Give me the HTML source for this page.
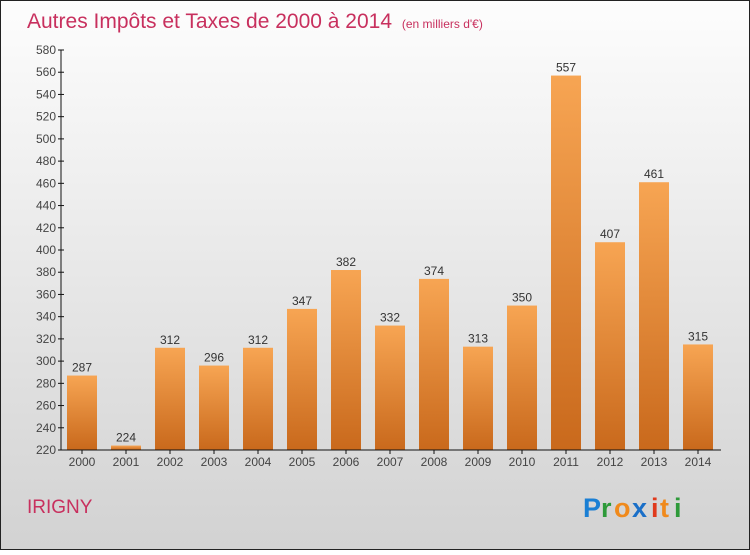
<!DOCTYPE html>
<html><head><meta charset="utf-8"><style>
html,body{margin:0;padding:0;}
body{width:750px;height:550px;overflow:hidden;font-family:"Liberation Sans",sans-serif;}
</style></head><body>
<svg id="chart" width="750" height="550" xmlns="http://www.w3.org/2000/svg">
<defs>
<linearGradient id="bg" x1="0" y1="0" x2="0" y2="1"><stop offset="0" stop-color="#fdfdfd"/><stop offset="1" stop-color="#d2d2d2"/></linearGradient>
<linearGradient id="bar" x1="0" y1="0" x2="0" y2="1"><stop offset="0" stop-color="#f7a553"/><stop offset="1" stop-color="#c9691c"/></linearGradient>
</defs>
<rect x="0.5" y="0.5" width="749" height="549" fill="url(#bg)" stroke="#222" stroke-width="1"/>
<text x="27" y="28" font-size="21" fill="#c8305e">Autres Impôts et Taxes de 2000 à 2014 <tspan font-size="12" dx="4">(en milliers d'€)</tspan></text>
<g id="plot"></g>
<text x="27" y="513" font-size="19" fill="#c8305e">IRIGNY</text>
<g font-size="27" font-weight="bold">
<text x="583" y="517" fill="#1a7fd4">P</text><text x="601" y="517" fill="#2e9a3a">r</text><text x="614" y="517" fill="#f08a1c">o</text><text x="632" y="517" fill="#1a6fc8">x</text><text x="651" y="517" fill="#e03a1c">i</text><text x="660" y="517" fill="#f08a1c">t</text><text x="674" y="517" fill="#2e9a3a">i</text>
</g>
</svg>
<script>
const years=["2000","2001","2002","2003","2004","2005","2006","2007","2008","2009","2010","2011","2012","2013","2014"];
const values=[287,224,312,296,312,347,382,332,374,313,350,557,407,461,315];
const yTicks=[220,240,260,280,300,320,340,360,380,400,420,440,460,480,500,520,540,560,580];
const NS="http://www.w3.org/2000/svg";
const g=document.getElementById('plot');
const y0=450,y1=50,vmin=220,vmax=580;
const y=v=>y0-(v-vmin)/(vmax-vmin)*(y0-y1);
const x=i=>82+i*44;
function el(t,a,txt){const e=document.createElementNS(NS,t);for(const k in a)e.setAttribute(k,a[k]);if(txt!=null)e.textContent=txt;g.appendChild(e);return e;}
yTicks.forEach(v=>{
 const t=el('line',{x1:58,x2:64,y1:y(v),y2:y(v),stroke:'#111'});
 
 
 const l=el('text',{x:56,y:y(v)+4,'text-anchor':'end','font-size':12,fill:'#444'},v);
 
 
});
values.forEach((v,i)=>{
 const r=el('rect',{x:x(i)-15,y:y(v),width:30,height:y0-y(v),fill:'url(#bar)'});
 
 
 const l=el('text',{x:x(i),y:y(v)-4,'text-anchor':'middle','font-size':12,fill:'#333'},v);
 
 
 const t=el('line',{x1:x(i),x2:x(i),y1:y0,y2:y0+4,stroke:'#111'});
 
 
 const xl=el('text',{x:x(i),y:466,'text-anchor':'middle','font-size':12,fill:'#444'},years[i]);
 
 
});
const ya=el('line',{x1:61,x2:61,y1:y1,y2:y0,stroke:'#111'});


const xa=el('line',{x1:61,x2:721,y1:y0,y2:y0,stroke:'#111'});


</script>
</body></html>
